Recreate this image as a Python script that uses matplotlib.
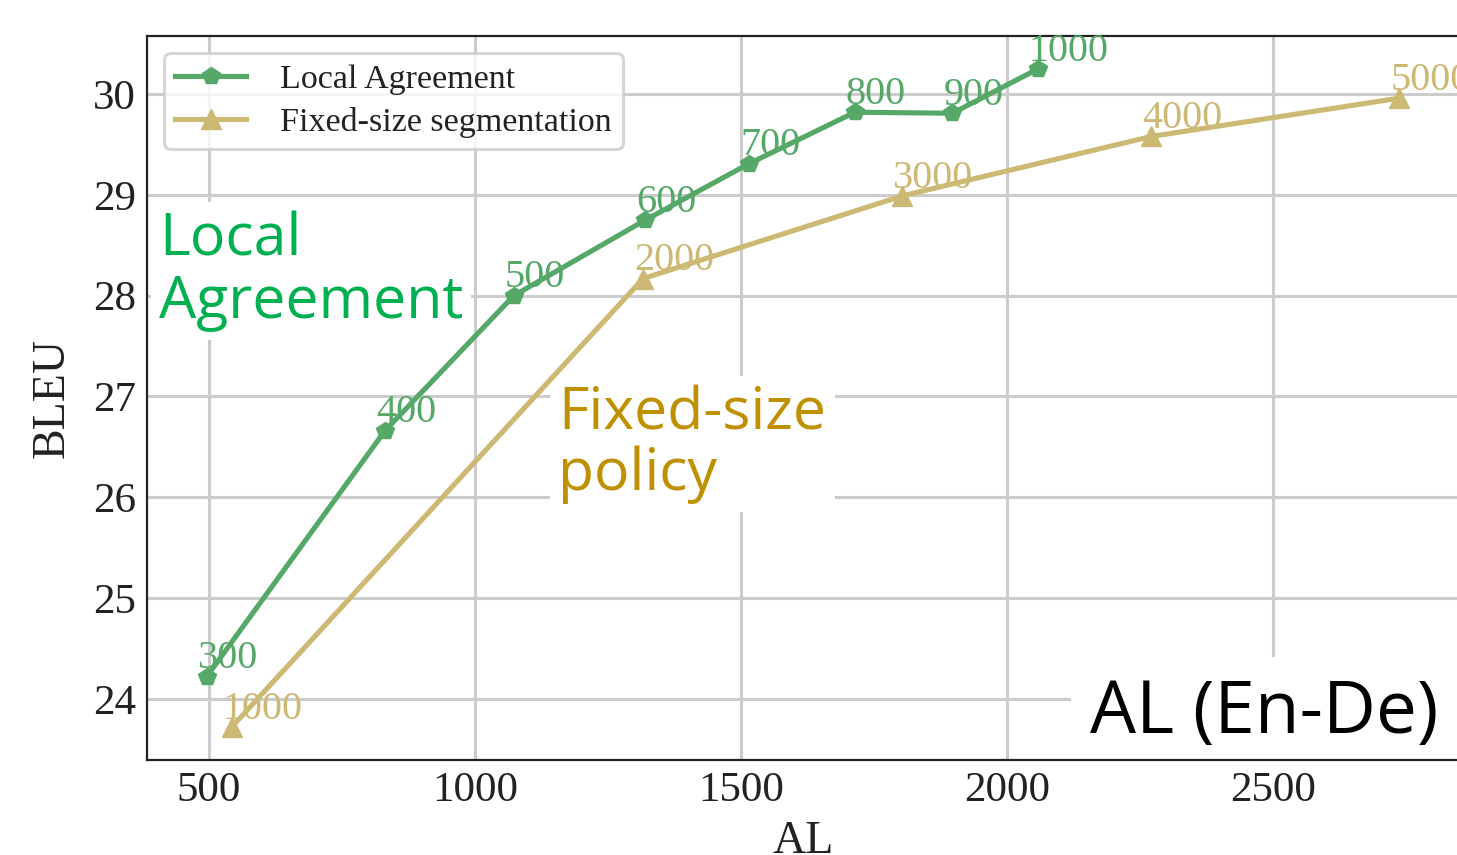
import matplotlib.pyplot as plt

# Local Agreement: chunk sizes, latency (AL) and BLEU
la_chunks = ["300", "400", "500", "600", "700", "800", "900", "1000"]
la_al = [496, 831, 1073, 1320, 1515, 1714, 1897, 2058]
la_bleu = [24.22, 26.66, 28.00, 28.75, 29.31, 29.82, 29.81, 30.25]

# Fixed-size segmentation: segment sizes, latency (AL) and BLEU
fs_chunks = ["1000", "2000", "3000", "4000", "5000"]
fs_al = [543, 1316, 1803, 2271, 2737]
fs_bleu = [23.72, 28.17, 28.99, 29.58, 29.96]

green = "#55A868"
tan = "#CCB974"

plt.rcParams['font.family'] = ['Liberation Serif', 'DejaVu Serif']

fig = plt.figure(figsize=(14.57, 8.55), dpi=100)
ax = fig.add_axes([0.1009, 0.1111, 0.9005, 0.8468])

ax.plot(la_al, la_bleu, color=green, lw=3.7, marker='p', ms=13,
        label='Local Agreement', zorder=3)
ax.plot(fs_al, fs_bleu, color=tan, lw=3.7, marker='^', ms=14,
        label='Fixed-size segmentation', zorder=3)

for x, y, s in zip(la_al, la_bleu, la_chunks):
    ax.annotate(s, (x, y), textcoords='offset points', xytext=(-6.5, 6),
                va='baseline', ha='left', color=green, fontsize=29, zorder=4)
for x, y, s in zip(fs_al, fs_bleu, fs_chunks):
    ax.annotate(s, (x, y), textcoords='offset points', xytext=(-6.5, 6),
                va='baseline', ha='left', color=tan, fontsize=29, zorder=4,
                annotation_clip=False)

ax.set_xticks([500, 1000, 1500, 2000, 2500])
ax.set_yticks([24, 25, 26, 27, 28, 29, 30])
ax.tick_params(labelsize=31, length=0, pad=8, labelcolor='#222222')
ax.set_xlabel('AL', fontsize=33, labelpad=8, color='#222222')
ax.set_ylabel('BLEU', fontsize=33, labelpad=14, color='#222222')

ax.grid(True, color='#cccccc', lw=2.2, zorder=0)
ax.set_axisbelow(True)
for sp in ax.spines.values():
    sp.set_color('#222222')
    sp.set_linewidth(1.6)

box = dict(facecolor='white', edgecolor='none', pad=6)
ax.text(0.009, 0.6105, 'Local\nAgreement', transform=ax.transAxes,
        family='Open Sans', fontsize=42.5, color='#00B050', va='baseline',
        linespacing=1.1, bbox=box, zorder=2)
ax.text(0.3135, 0.373, 'Fixed-size\npolicy', transform=ax.transAxes,
        family='Open Sans', fontsize=42.5, color='#BF9000', va='baseline',
        linespacing=1.05, bbox=box, zorder=2)
ax.text(0.719, 0.0373, 'AL (En-De)', transform=ax.transAxes,
        family='Open Sans', fontsize=52.5, color='black', va='baseline',
        bbox=dict(facecolor='white', edgecolor='none', pad=14), zorder=2)

leg = ax.legend(loc='upper left', fontsize=24.5, frameon=True, fancybox=True,
                handlelength=2.1, handletextpad=1.0, borderpad=0.32,
                labelspacing=0.36)
leg.get_frame().set_edgecolor('#cccccc')
leg.get_frame().set_linewidth(2.2)
for t in leg.get_texts():
    t.set_color('#222222')

fig.savefig('out.png', dpi=100)
